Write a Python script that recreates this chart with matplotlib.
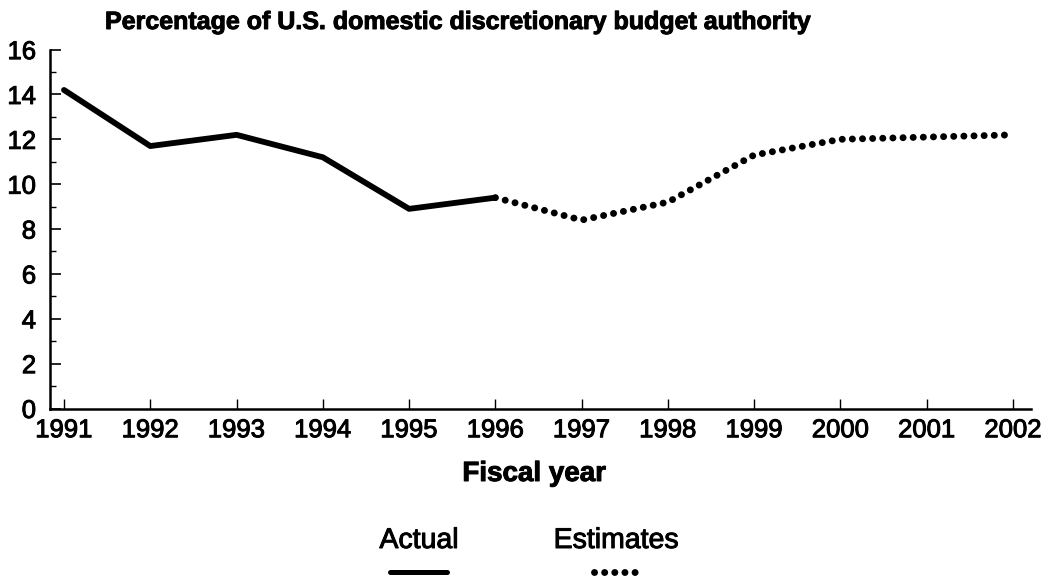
import matplotlib
matplotlib.use("Agg")
import matplotlib.pyplot as plt
import matplotlib.patheffects as pe
from matplotlib.lines import Line2D
from matplotlib.ticker import MultipleLocator

plt.rcParams['font.family'] = ['Liberation Sans', 'DejaVu Sans']

# Share of U.S. domestic discretionary budget authority (percent)
actual_years = [1991, 1992, 1993, 1994, 1995, 1996]
actual_values = [14.2, 11.7, 12.2, 11.2, 8.9, 9.4]
estimate_years = [1996, 1997, 1998, 1999, 2000, 2001, 2002]
estimate_values = [9.4, 8.4, 9.2, 11.3, 12.0, 12.1, 12.2]
year_ticks = list(range(1991, 2003))
y_ticks = list(range(0, 17, 2))

W, H = 1049, 577
X0, X1 = 50, 1031      # axis extent in pixels
Y0, Y16 = 408.5, 49.6  # pixel rows of 0 and 16
fig = plt.figure(figsize=(W / 100, H / 100), dpi=100)
ax = fig.add_axes([X0 / W, 1 - Y0 / H, (X1 - X0) / W, (Y0 - Y16) / H])

# slight ink spread on printed text
heavy = [pe.withStroke(linewidth=0.7, foreground='black')]

dot_style = (0, (0.01, 1.45))
ax.plot(actual_years, actual_values, color='black', lw=4.2,
        solid_capstyle='round', solid_joinstyle='round')
ax.plot(estimate_years, estimate_values, color='black', lw=5.0,
        linestyle=dot_style, dash_capstyle='round')

step = (1013 - 64) / 11
ax.set_xlim(1991 - (64 - X0) / step, 2002 + (X1 - 1013) / step)
ax.set_ylim(0, 16)

for side in ('top', 'right'):
    ax.spines[side].set_visible(False)
for side in ('left', 'bottom'):
    ax.spines[side].set_linewidth(1.8)

ax.set_xticks(year_ticks)
ax.set_xticklabels([str(y) for y in year_ticks])
ax.set_yticks(y_ticks)
ax.yaxis.set_minor_locator(MultipleLocator(1))
ax.tick_params(axis='x', direction='in', length=7, width=1, pad=7, labelsize=18.5)
ax.tick_params(axis='y', which='major', direction='in', length=8, width=1.2,
               pad=10, labelsize=18.5)
ax.tick_params(axis='y', which='minor', direction='in', length=4, width=1)
for lab in ax.get_xticklabels() + ax.get_yticklabels():
    lab.set_path_effects(heavy)

fig.text(105 / W, 1 - 29 / H, 'Percentage of U.S. domestic discretionary budget authority',
         fontsize=18, fontweight='bold', ha='left', va='baseline', path_effects=heavy)
fig.text(534 / W, 1 - 481 / H, 'Fiscal year', fontsize=20, fontweight='bold',
         ha='center', va='baseline', path_effects=heavy)

# Legend: label above a short line sample
fig.text(419 / W, 1 - 548 / H, 'Actual', fontsize=20.5, ha='center', va='baseline',
         path_effects=heavy)
fig.text(616 / W, 1 - 548 / H, 'Estimates', fontsize=20.5, ha='center', va='baseline',
         path_effects=heavy)
fig.add_artist(Line2D([390 / W, 447 / W], [1 - 572 / H] * 2, transform=fig.transFigure,
                      color='black', lw=3.6, solid_capstyle='round'))
fig.add_artist(Line2D([594 / W, 642 / W], [1 - 572 / H] * 2, transform=fig.transFigure,
                      color='black', lw=5.0, linestyle=dot_style, dash_capstyle='round'))

fig.savefig('out.png', dpi=100)
